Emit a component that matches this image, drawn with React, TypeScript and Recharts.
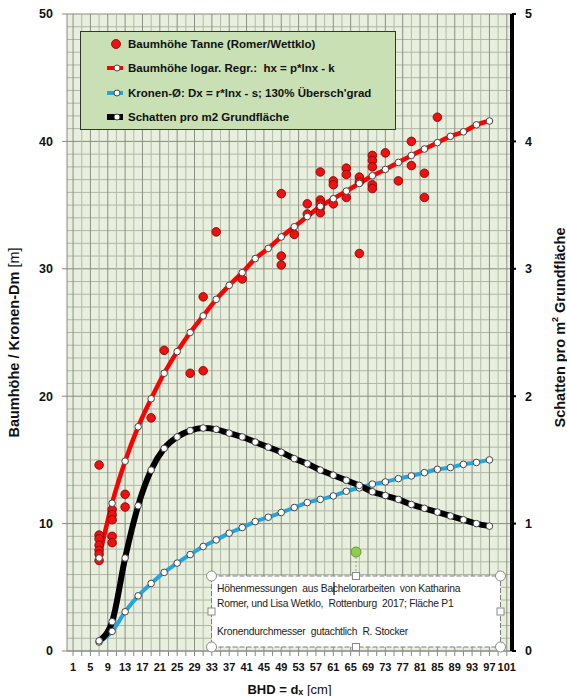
import React from 'react';
import { ComposedChart, Line, Scatter, XAxis, YAxis, ReferenceLine, ReferenceArea, Legend } from 'recharts';

// ---- data ----
const curveBHD = [7, 10, 13, 16, 19, 22, 25, 28, 31, 34, 37, 40, 43, 46, 49, 52, 55, 58, 61, 64, 67, 70, 73, 76, 79, 82, 85, 88, 91, 94, 97];
const heightRegression = [7.3, 11.6, 14.9, 17.6, 19.8, 21.8, 23.5, 25.0, 26.3, 27.6, 28.7, 29.7, 30.8, 31.6, 32.5, 33.3, 34.1, 34.9, 35.5, 36.1, 36.7, 37.3, 37.8, 38.35, 38.9, 39.4, 39.9, 40.4, 40.75, 41.3, 41.6];
const crownDiameter = [0.7, 1.54, 3.08, 4.33, 5.3, 6.17, 6.9, 7.57, 8.2, 8.72, 9.25, 9.69, 10.16, 10.5, 10.87, 11.26, 11.65, 11.9, 12.17, 12.54, 12.8, 13.1, 13.27, 13.53, 13.74, 14.0, 14.26, 14.4, 14.65, 14.8, 15.0];
const shadePerM2 = [0.08, 0.23, 0.73, 1.14, 1.42, 1.59, 1.68, 1.73, 1.75, 1.74, 1.71, 1.68, 1.64, 1.6, 1.56, 1.51, 1.47, 1.42, 1.38, 1.34, 1.3, 1.25, 1.22, 1.19, 1.15, 1.12, 1.09, 1.06, 1.03, 1.0, 0.98];

const sampleBHD = [7, 7, 7, 7, 7, 7, 7, 10, 10, 10, 10, 10, 13, 13, 19, 22, 28, 31, 31, 34, 40, 49, 49, 49, 52, 55, 55, 58, 58, 58, 58, 58, 61, 61, 61, 64, 64, 64, 67, 67, 67, 70, 70, 70, 70, 70, 73, 76, 79, 79, 82, 82, 85];
const sampleHeight = [14.6, 9.1, 8.8, 8.3, 7.9, 7.6, 7.1, 11.1, 10.7, 10.3, 9.0, 8.5, 12.3, 11.3, 18.3, 23.6, 21.8, 27.8, 22.0, 32.9, 29.2, 35.9, 31.0, 30.3, 32.7, 35.1, 34.3, 37.6, 35.4, 35.1, 34.8, 34.4, 36.9, 36.6, 35.1, 37.9, 37.4, 35.6, 37.2, 36.8, 31.2, 38.9, 38.5, 38.0, 36.6, 36.3, 39.1, 36.9, 40.0, 38.1, 37.5, 35.6, 41.9];

const xTicks = [1, 3, 5, 7, 9, 11, 13, 15, 17, 19, 21, 23, 25, 27, 29, 31, 33, 35, 37, 39, 41, 43, 45, 47, 49, 51, 53, 55, 57, 59, 61, 63, 65, 67, 69, 71, 73, 75, 77, 79, 81, 83, 85, 87, 89, 91, 93, 95, 97, 99, 101];
const leftTicks = [0, 10, 20, 30, 40, 50];
const rightTicks = [0, 1, 2, 3, 4, 5];

const legendNames = [
  'Baumhöhe Tanne (Romer/Wettklo)',
  'Baumhöhe logar. Regr.:  hx = p*lnx - k',
  "Kronen-Ø: Dx = r*lnx - s; 130% Übersch'grad",
  'Schatten pro m2 Grundfläche',
];
const noteLines = [
  'Höhenmessungen  aus Bachelorarbeiten  von Katharina',
  'Romer, und Lisa Wetklo,  Rottenburg  2017; Fläche P1',
  'Kronendurchmesser  gutachtlich  R. Stocker',
];

const curveRows = curveBHD.map((x, i) => ({ x, fit: heightRegression[i], crown: crownDiameter[i], shade: shadePerM2[i] }));
const sampleRows = sampleBHD.map((x, i) => ({ x, y: sampleHeight[i] }));
const gridY = Array.from({ length: 51 }, (_, i) => i);

const FONT = '"Liberation Sans", Arial, sans-serif';
const RED = '#ff0000';
const BLUE = '#22a6e0';

const legendColors = [RED, RED, BLUE, '#000'];

function LegendBox() {
  const rows = [13, 37, 62, 86];
  return (
    <svg width={316} height={99} style={{ display: 'block', fontFamily: FONT }}>
      <rect x={0.5} y={0.5} width={315} height={98} fill="#c8e0b4" stroke="#333" strokeWidth={1} />
      {legendNames.map((name, i) => (
        <g key={name}>
          {i === 0 ? (
            <circle cx={36} cy={rows[i]} r={4.5} fill="#ee1111" stroke="#7a0000" strokeWidth={0.8} />
          ) : (
            <g>
              <line x1={27} x2={43} y1={rows[i]} y2={rows[i]} stroke={legendColors[i]} strokeWidth={i === 3 ? 6 : 4} />
              <circle cx={37} cy={rows[i]} r={3} fill="#fff" stroke="#444" strokeWidth={1} />
            </g>
          )}
          <text x={48} y={rows[i]} dominantBaseline="central" fontSize={11.5} fontWeight="bold" fill="#111" style={{ whiteSpace: 'pre' }}>{name}</text>
        </g>
      ))}
    </svg>
  );
}

const ScatterDot = (p: any) => (
  <circle cx={p.cx} cy={p.cy} r={4.3} fill="#f01010" stroke="#7a0000" strokeWidth={0.8} />
);

const xTickFmt = (v: number) => ((v - 1) % 4 === 0 ? String(v) : '');

const LeftTitle = (props: any) => {
  const vb = props.viewBox || {};
  const cx = 14;
  const cy = (vb.y ?? 14) + (vb.height ?? 637) / 2 + 10;
  return (
    <text x={cx} y={cy} transform={`rotate(-90 ${cx} ${cy})`} textAnchor="middle" dominantBaseline="central" fontFamily={FONT} fontSize={14.5} fill="#111">
      <tspan fontWeight="bold">Baumhöhe / Kronen-Dm </tspan>
      <tspan>[m]</tspan>
    </text>
  );
};

const RightTitle = (props: any) => {
  const vb = props.viewBox || {};
  const cx = 560;
  const cy = (vb.y ?? 14) + (vb.height ?? 637) / 2 - 5;
  return (
    <text x={cx} y={cy} transform={`rotate(-90 ${cx} ${cy})`} textAnchor="middle" dominantBaseline="central" fontFamily={FONT} fontSize={14.5} fontWeight="bold" fill="#111">
      <tspan>Schatten pro m</tspan>
      <tspan fontSize={9} dy={-5}>2</tspan>
      <tspan dy={5}> Grundfläche</tspan>
    </text>
  );
};

const BottomTitle = (props: any) => {
  const vb = props.viewBox || {};
  const cx = (vb.x ?? 67) + (vb.width ?? 445) / 2;
  const cy = 689;
  return (
    <text x={cx} y={cy} textAnchor="middle" dominantBaseline="central" fontFamily={FONT} fontSize={13} fill="#111">
      <tspan fontWeight="bold">BHD = d</tspan>
      <tspan fontWeight="bold" fontSize={9} dy={3}>x</tspan>
      <tspan dy={-3}> [cm]</tspan>
    </text>
  );
};

function NoteBox() {
  const L = 211.5, T = 576, R = 500.5, B = 647;
  const mx = (L + R) / 2, my = (T + B) / 2;
  return (
    <svg width={567} height={696} style={{ position: 'absolute', left: 0, top: 0, pointerEvents: 'none', fontFamily: FONT }}>
      <line x1={mx} x2={mx} y1={557} y2={572} stroke="#999" strokeWidth={1} strokeDasharray="2 2" />
      <circle cx={mx} cy={552} r={5} fill="#8fce4a" stroke="#6a9a3a" strokeWidth={1} />
      <rect x={L} y={T} width={R - L} height={B - T} fill="#fff" stroke="#7f7f7f" strokeWidth={1} strokeDasharray="5 2" />
      {noteLines.map((t, i) => (
        <text key={t} x={217} y={[588, 603, 631][i]} dominantBaseline="central" fontSize={10.3} letterSpacing={-0.25} fill="#222" style={{ whiteSpace: 'pre' }}>{t}</text>
      ))}
      <line x1={334} x2={334} y1={582} y2={595} stroke="#111" strokeWidth={1.2} />
      {[[L, T], [R, T], [L, B], [R, B]].map(([x, y], i) => (
        <circle key={'c' + i} cx={x} cy={y} r={5} fill="#fff" stroke="#8a8a8a" strokeWidth={1} />
      ))}
      {[[mx, T], [mx, B], [L, my], [R, my]].map(([x, y], i) => (
        <rect key={'s' + i} x={x - 3.5} y={y - 3.5} width={7} height={7} fill="#fff" stroke="#8a8a8a" strokeWidth={1} />
      ))}
    </svg>
  );
}

export default function App() {
  return (
    <div style={{ position: 'absolute', left: 0, top: 0, width: 567, height: 696, background: '#fff' }}>
      <ComposedChart width={567} height={696} margin={{ top: 14, right: 0, bottom: 0, left: 0 }} style={{ fontFamily: FONT }}>
        <XAxis
          dataKey="x"
          type="number"
          domain={[-0.4, 102.2]}
          allowDataOverflow
          ticks={xTicks}
          interval={0}
          tickFormatter={xTickFmt}
          height={45}
          axisLine={{ stroke: '#888' }}
          tickLine={{ stroke: '#888' }}
          tickSize={5}
          tickMargin={7}
          tick={{ fontSize: 11, fontWeight: 'bold', fill: '#111', fontFamily: FONT }}
          label={<BottomTitle />}
        />
        <YAxis
          yAxisId="left"
          type="number"
          domain={[0, 50]}
          ticks={leftTicks}
          interval={0}
          width={67}
          axisLine={{ stroke: '#888' }}
          tickLine={{ stroke: '#888' }}
          tickSize={5}
          tickMargin={9}
          tick={{ fontSize: 12.5, fontWeight: 'bold', fill: '#111', fontFamily: FONT }}
          label={<LeftTitle />}
        />
        <YAxis
          yAxisId="right"
          orientation="right"
          type="number"
          domain={[0, 5]}
          ticks={rightTicks}
          interval={0}
          width={55}
          axisLine={{ stroke: '#000', strokeWidth: 4 }}
          tickLine={{ stroke: '#000', strokeWidth: 2 }}
          tickSize={4}
          tickMargin={9}
          tick={{ fontSize: 12.5, fontWeight: 'bold', fill: '#111', fontFamily: FONT }}
          label={<RightTitle />}
        />
        <ReferenceArea yAxisId="left" x1={-0.4} x2={102.2} y1={0} y2={50} fill="#e8efdd" fillOpacity={1} stroke="none" />
        {gridY.map((v) => (
          <ReferenceLine key={'gy' + v} yAxisId="left" y={v} stroke={v % 10 === 0 ? '#868d80' : '#afb6a8'} strokeWidth={1} />
        ))}
        {xTicks.map((v) => (
          <ReferenceLine key={'gx' + v} yAxisId="left" x={v} stroke={(v - 1) % 4 === 0 ? '#8a9184' : '#b3baac'} strokeWidth={1} />
        ))}
        <Line data={curveRows} yAxisId="left" dataKey="crown" type="monotone" stroke={BLUE} strokeWidth={4}
          dot={{ r: 3.3, fill: '#fff', stroke: '#444', strokeWidth: 1 }} activeDot={false} isAnimationActive={false} />
        <Line data={curveRows} yAxisId="right" dataKey="shade" type="monotone" stroke="#000" strokeWidth={6}
          dot={{ r: 3.3, fill: '#fff', stroke: '#444', strokeWidth: 1 }} activeDot={false} isAnimationActive={false} />
        <Line data={curveRows} yAxisId="left" dataKey="fit" type="monotone" stroke={RED} strokeWidth={4.5}
          dot={{ r: 3.3, fill: '#fff', stroke: '#444', strokeWidth: 1 }} activeDot={false} isAnimationActive={false} />
        <Scatter data={sampleRows} yAxisId="left" dataKey="y" shape={ScatterDot} isAnimationActive={false} />
        <Legend
          layout="horizontal"
          verticalAlign="middle"
          align="center"
          wrapperStyle={{ left: 80, top: 31, width: 316, height: 99 }}
          content={() => <LegendBox />}
        />
      </ComposedChart>
      <NoteBox />
    </div>
  );
}
